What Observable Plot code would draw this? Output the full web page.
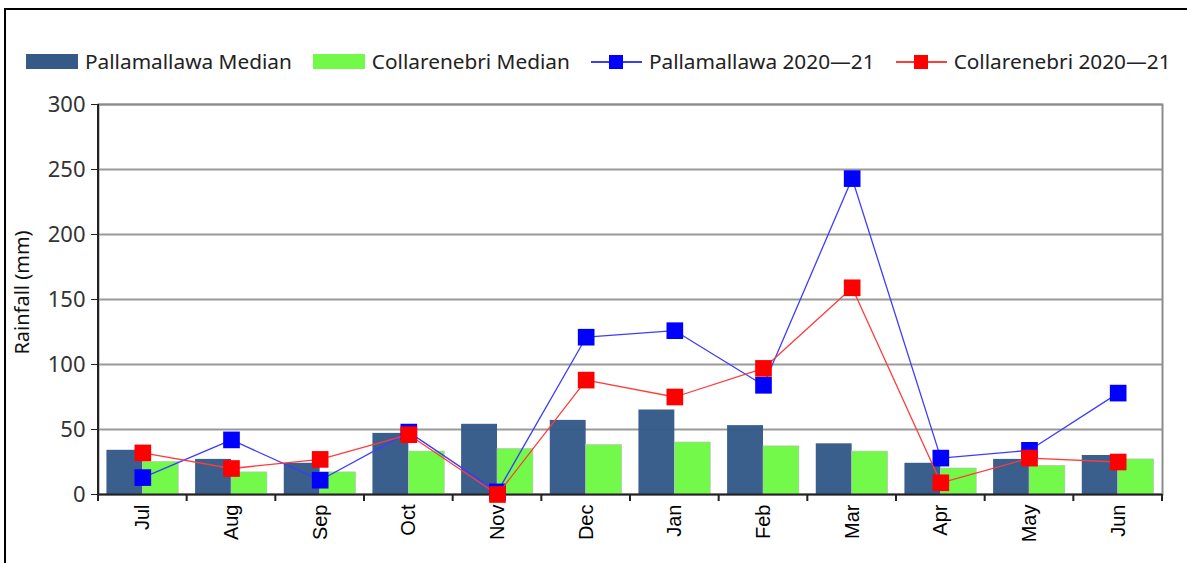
<!DOCTYPE html>
<html>
<head>
<meta charset="utf-8">
<script src="https://cdn.jsdelivr.net/npm/d3@7"></script>
<script src="https://cdn.jsdelivr.net/npm/@observablehq/plot@0.6"></script>
<style>
  html, body { margin: 0; padding: 0; background: #fff; width: 1187px; height: 563px; overflow: hidden; }
  #frame { position: absolute; left: 4px; top: 8px; width: 1300px; height: 700px; border-left: 2px solid #000; border-top: 2px solid #000; }
  #legend { position: absolute; left: 26px; top: 47px; display: flex; align-items: center; font-family: "Noto Sans", sans-serif; font-size: 20.8px; color: #222; white-space: nowrap; }
  .item { display: flex; align-items: center; margin-right: 21px; }
  .sw { width: 52px; height: 15px; margin-right: 7px; }
  .ln { position: relative; width: 51px; height: 15px; margin-right: 7px; }
  .ln .l { position: absolute; left: 0; right: 0; top: 7px; height: 0; border-top: 2px solid; }
  .ln .s { position: absolute; left: 18px; top: 1px; width: 14px; height: 14px; }
  #chart { position: absolute; left: 0; top: 90px; }
</style>
</head>
<body>
<div id="frame"></div>
<div id="legend"></div>
<div id="chart"></div>
<script>
const months = ["Jul","Aug","Sep","Oct","Nov","Dec","Jan","Feb","Mar","Apr","May","Jun"];
const pallaMedian = [34, 27, 24, 47, 54, 57, 65, 53, 39, 24, 27, 30];
const collaMedian = [25, 17, 17, 33, 35, 38, 40, 37, 33, 20, 22, 27];
const palla2021 = [13, 42, 11, 48, 2, 121, 126, 84, 243, 28, 34, 78];
const colla2021 = [32, 20, 27, 46, 0, 88, 75, 97, 159, 9, 28, 25];
const yTicks = [0, 50, 100, 150, 200, 250, 300];
const seriesNames = ["Pallamallawa Median", "Collarenebri Median", "Pallamallawa 2020\u201421", "Collarenebri 2020\u201421"];
const seriesColors = ["#355a88", "#72f94a", "#0000ff", "#ff0000"];
const lineColors = ["#3c3cff", "#ff3c3c"];

const data = months.map((m, i) => ({
  month: m, pm: pallaMedian[i], cm: collaMedian[i], p21: palla2021[i], c21: colla2021[i]
}));

// Legend
const legend = document.getElementById("legend");
seriesNames.forEach((name, i) => {
  const item = document.createElement("div");
  item.className = "item";
  if (i < 2) {
    item.innerHTML = `<div class="sw" style="background:${seriesColors[i]}"></div><span>${name}</span>`;
  } else {
    item.innerHTML = `<div class="ln"><div class="l" style="border-color:${lineColors[i-2]}"></div><div class="s" style="background:${seriesColors[i]}"></div></div><span>${name}</span>`;
  }
  legend.appendChild(item);
});

const W = 1187, H = 470, ML = 98, MR = 25, MT = 14, MB = 66;
const bw = (W - ML - MR) / months.length;
const outer = bw * 0.095;

const chart = Plot.plot({
  width: W, height: H,
  marginLeft: ML, marginRight: MR, marginTop: MT, marginBottom: MB,
  style: { fontFamily: "Noto Sans, sans-serif", background: "transparent", overflow: "visible" },
  x: { type: "band", domain: months, padding: 0, round: false },
  y: { domain: [0, 300] },
  marks: [
    Plot.ruleY(yTicks.filter(d => d > 0), { stroke: "#999", strokeWidth: 2 }),
    Plot.frame({ stroke: "#8c8c8c", strokeWidth: 2 }),
    Plot.barY(data, { x: "month", y: "pm", fill: seriesColors[0], fillOpacity: 0.97, insetLeft: outer, insetRight: bw / 2 }),
    Plot.barY(data, { x: "month", y: "cm", fill: seriesColors[1], stroke: "#bbb", strokeWidth: 0.6, insetLeft: bw / 2, insetRight: outer }),
    Plot.ruleY([0], { stroke: "#222", strokeWidth: 2 }),
    Plot.line(data, { x: "month", y: "p21", stroke: lineColors[0], strokeWidth: 1.3 }),
    Plot.dot(data, { x: "month", y: "p21", symbol: "square", r: 9.4, fill: seriesColors[2], stroke: "none" }),
    Plot.line(data, { x: "month", y: "c21", stroke: lineColors[1], strokeWidth: 1.3 }),
    Plot.dot(data, { x: "month", y: "c21", symbol: "square", r: 9.4, fill: seriesColors[3], stroke: "none" }),
    Plot.axisY({ ticks: yTicks, tickSize: 7, tickPadding: 6, fontSize: 22, fill: "#333", stroke: "#222", label: null }),
    Plot.axisX({ tickSize: 0, tickPadding: 10, tickRotate: -90, fontSize: 20, fontFamily: "Liberation Sans, Arial, sans-serif", fill: "#000", label: null }),
    Plot.text(["Rainfall (mm)"], { frameAnchor: "left", rotate: -90, dx: -76, dy: -7, textAnchor: "middle", fontSize: 20, fill: "#111" })
  ]
});

// Axis line and category boundary ticks from the scales
const xs = chart.scale("x"), ys = chart.scale("y");
const svg = d3.select(chart);
const y0 = ys.apply(0), yTop = ys.apply(300);
const g = svg.append("g").attr("stroke", "#222").attr("stroke-width", 2);
const edges = months.map(m => xs.apply(m)).concat([xs.apply(months[months.length - 1]) + xs.bandwidth]);
g.append("line").attr("x1", edges[0]).attr("x2", edges[0]).attr("y1", yTop).attr("y2", y0 + 7);
edges.slice(1).forEach(x => {
  g.append("line").attr("x1", x).attr("x2", x).attr("y1", y0).attr("y2", y0 + 7);
});

document.getElementById("chart").appendChild(chart);
</script>
</body>
</html>
